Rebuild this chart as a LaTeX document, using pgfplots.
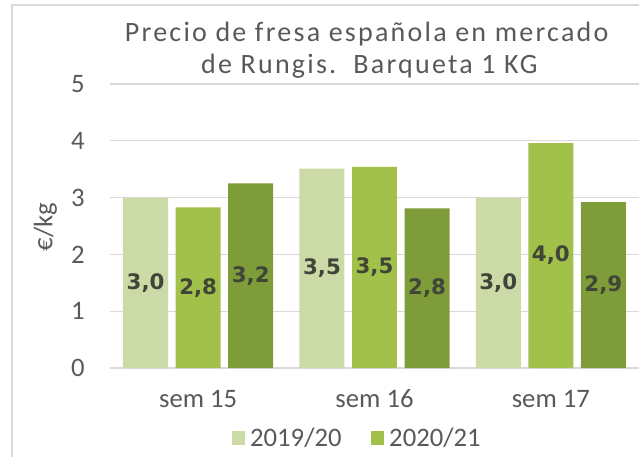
\documentclass[border=0pt]{standalone}
\usepackage{pgfplots}
\usepackage{pgfplotstable}
\pgfplotsset{compat=1.18}
\usepackage{fontspec}
\setmainfont{Carlito}
\newfontfamily\titlefont[LetterSpace=8]{Carlito}
\newfontfamily\labfont{DejaVu Sans}
\definecolor{cA}{HTML}{CCDAA7}
\definecolor{cB}{HTML}{A2C14A}
\definecolor{cC}{HTML}{7F9C3A}
\definecolor{txt}{HTML}{595959}
\definecolor{gridc}{HTML}{D9D9D9}
\definecolor{lab}{HTML}{3F4537}
\pgfplotstableread{
x a b c la lb lc
0 3.00 2.83 3.25 3,0 2,8 3,2
1 3.51 3.54 2.81 3,5 3,5 2,8
2 3.00 3.96 2.92 3,0 4,0 2,9
}\data
\begin{document}
\begin{tikzpicture}
\path[use as bounding box] (0,0) rectangle (479.25pt,342.75pt);
\begin{axis}[
  at={(82.5pt,66.75pt)}, anchor=south west,
  scale only axis, width=396.75pt, height=213pt,
  xmin=-0.5, xmax=2.5, ymin=0, ymax=5,
  ytick={0,1,2,3,4,5},
  xtick={0,1,2}, xticklabels={sem 15,sem 16,sem 17},
  major tick length=0pt,
  axis line style={draw=none},
  xmajorgrids=false, ymajorgrids=true, grid style={draw=gridc, line width=0.8pt},
  /pgf/number format/assume math mode=true,
  tick label style={font=\fontsize{20}{24}\selectfont, text=txt},
  yticklabel style={anchor=east, inner sep=0pt, xshift=-18.75pt},
  xticklabel style={anchor=base, inner sep=0pt, yshift=-29.25pt},
  legend columns=2,
  legend style={draw=none, fill=none, at={(axis description cs:0.468,-0.2465)}, anchor=center,
    font=\fontsize{20}{24}\selectfont, text=txt,
    /tikz/every even column/.append style={column sep=20pt}},
  legend image code/.code={\fill[#1,draw=none] (0pt,-4.9pt) rectangle (9.75pt,4.9pt);},
  clip=false,
]
\addplot[ybar, bar width=0.255, bar shift=0pt, fill=cA, draw=none] table[x expr=\thisrow{x}-0.298, y=a] {\data};
\addplot[ybar, bar width=0.255, bar shift=0pt, fill=cB, draw=none] table[x=x, y=b] {\data};
\addplot[ybar, bar width=0.255, bar shift=0pt, fill=cC, draw=none, forget plot] table[x expr=\thisrow{x}+0.298, y=c] {\data};
\legend{\hspace{2pt}2019/20,\hspace{2pt}2020/21}
\pgfplotsset{every node near coord/.append style={anchor=center, font=\labfont\bfseries\fontsize{16}{18}\selectfont, text=lab}}
\addplot[draw=none, mark=none, forget plot, nodes near coords, point meta=explicit symbolic] table[x expr=\thisrow{x}-0.298, y expr=\thisrow{a}/2, meta=la] {\data};
\addplot[draw=none, mark=none, forget plot, nodes near coords, point meta=explicit symbolic] table[x=x, y expr=\thisrow{b}/2, meta=lb] {\data};
\addplot[draw=none, mark=none, forget plot, nodes near coords, point meta=explicit symbolic] table[x expr=\thisrow{x}+0.298, y expr=\thisrow{c}/2, meta=lc] {\data};
\end{axis}
\draw[gridc, line width=0.8pt] (9pt,0pt) -- (9pt,339pt) -- (479.25pt,339pt);
\node[rotate=90, anchor=center, font=\fontsize{20}{24}\selectfont, text=txt, inner sep=0pt] at (34pt,172.5pt) {€/kg};
\node[anchor=base, font=\titlefont\fontsize{21}{24}\selectfont, text=txt] at (275pt,311.25pt) {Precio de fresa española en mercado};
\node[anchor=base, font=\titlefont\fontsize{21}{24}\selectfont, text=txt] at (277pt,287.25pt) {de Rungis.\ \ Barqueta 1 KG};
\end{tikzpicture}
\end{document}
